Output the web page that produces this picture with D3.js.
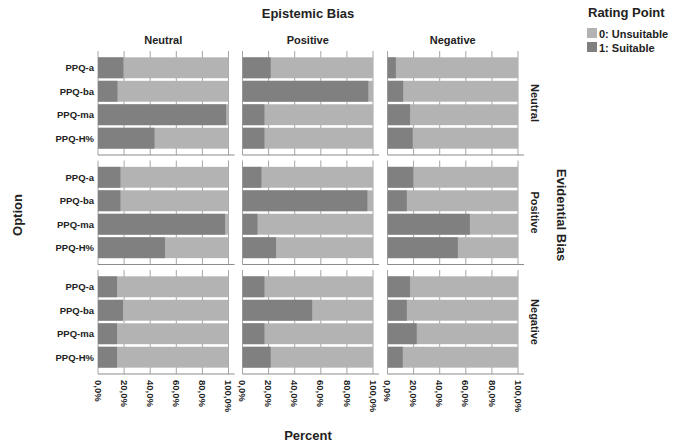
<!DOCTYPE html>
<html>
<head>
<meta charset="utf-8">
<script src="https://cdn.jsdelivr.net/npm/d3@7"></script>
<style>
  body { margin: 0; background: #fff; }
  svg text { font-family: "Liberation Sans", Arial, sans-serif; font-weight: bold; fill: #222; }
</style>
</head>
<body>
<svg width="680" height="445"></svg>
<script>
// facets
var epistemic = ["Neutral", "Positive", "Negative"];   // columns
var evidential = ["Neutral", "Positive", "Negative"];  // rows
var options = ["PPQ-a", "PPQ-ba", "PPQ-ma", "PPQ-H%"];
var ticks = [0, 20, 40, 60, 80, 100];

// percent "1: Suitable", per evidential row, per epistemic column, per option
var suitableNeutralRow = [
    [19.5, 14.9, 98.2, 43.3],
    [21.6, 96.4, 16.8, 16.8],
    [6.4, 12.0, 17.3, 19.3]
];
var suitablePositiveRow = [
    [17.2, 17.2, 97.4, 51.3],
    [14.5, 95.7, 11.5, 25.7],
    [19.8, 14.8, 63.1, 53.9]
];
var suitableNegativeRow = [
    [14.6, 19.2, 14.6, 14.6],
    [16.8, 53.4, 16.8, 21.6],
    [17.3, 14.8, 22.4, 11.7]
];
var suitable = [suitableNeutralRow, suitablePositiveRow, suitableNegativeRow];

var legendLabels = ["0: Unsuitable", "1: Suitable"];
var colors = ["#b3b3b3", "#808080"];

var svg = d3.select("svg");

var colX = [98, 242.5, 387.5];
var panelW = 130.5;
var rowY = [51, 160.5, 270];
var panelH = 104;

var fmt = function (v) { return v.toFixed(1).replace(".", ",") + "%"; };

evidential.forEach(function (rowName, r) {
    epistemic.forEach(function (colName, c) {
        var x = d3.scaleLinear().domain([0, 100]).range([colX[c], colX[c] + panelW]);
        var y = d3.scaleBand().domain(options)
            .range([rowY[r], rowY[r] + panelH])
            .paddingInner(0.11).paddingOuter(0.27);
        var g = svg.append("g");

        // vertical grid
        g.selectAll("line.grid").data(ticks).enter().append("line")
            .attr("x1", function (d) { return x(d); })
            .attr("x2", function (d) { return x(d); })
            .attr("y1", rowY[r])
            .attr("y2", rowY[r] + panelH)
            .style("stroke", "#a6a6a6")
            .style("stroke-width", 1);

        var vals = suitable[r][c];
        // unsuitable part (full bar)
        g.selectAll("rect.unsuit").data(options).enter().append("rect")
            .attr("x", x(0))
            .attr("y", function (d) { return y(d); })
            .attr("width", x(100) - x(0))
            .attr("height", y.bandwidth())
            .style("fill", colors[0]);
        g.selectAll("rect.suit").data(options).enter().append("rect")
            .attr("x", x(0))
            .attr("y", function (d) { return y(d); })
            .attr("width", function (d, i) { return x(vals[i]) - x(0); })
            .attr("height", y.bandwidth())
            .style("fill", colors[1]);

        // bottom axis line
        g.append("line")
            .attr("x1", x(0)).attr("x2", x(100) + 6)
            .attr("y1", rowY[r] + panelH).attr("y2", rowY[r] + panelH)
            .style("stroke", "#8c8c8c").style("stroke-width", 1.2);

        if (c == 0) {
            g.selectAll("text.opt").data(options).enter().append("text")
                .attr("x", x(0) - 4)
                .attr("y", function (d) { return y(d) + y.bandwidth() / 2; })
                .attr("dy", "0.35em")
                .attr("text-anchor", "end")
                .style("font-size", "9.5px")
                .text(function (d) { return d; });
        }
        if (r == 0) {
            g.append("text")
                .attr("x", (x(0) + x(100)) / 2)
                .attr("y", 44)
                .attr("text-anchor", "middle")
                .style("font-size", "11px")
                .text(colName);
        }
        if (r == evidential.length - 1) {
            g.selectAll("text.tick").data(ticks).enter().append("text")
                .attr("transform", function (d) {
                    return "translate(" + x(d) + "," + (rowY[r] + panelH + 6) + ") rotate(90)";
                })
                .attr("dy", "0.35em")
                .style("font-size", "9.5px")
                .text(function (d) { return fmt(d); });
        }
        if (c == epistemic.length - 1) {
            g.append("text")
                .attr("transform", "translate(531," + (rowY[r] + panelH / 2) + ") rotate(90)")
                .attr("text-anchor", "middle")
                .style("font-size", "11px")
                .text(rowName);
        }
    });
});

// titles
svg.append("text").attr("x", 308).attr("y", 18).attr("text-anchor", "middle")
    .style("font-size", "13px").text("Epistemic Bias");
svg.append("text").attr("x", 308).attr("y", 440).attr("text-anchor", "middle")
    .style("font-size", "13px").text("Percent");
svg.append("text").attr("transform", "translate(22,215) rotate(-90)").attr("text-anchor", "middle")
    .style("font-size", "13px").text("Option");
svg.append("text").attr("transform", "translate(557,215) rotate(90)").attr("text-anchor", "middle")
    .style("font-size", "13px").text("Evidential Bias");

// legend
svg.append("text").attr("x", 588).attr("y", 17).style("font-size", "13px").text("Rating Point");
var leg = svg.selectAll("g.leg").data(legendLabels).enter().append("g")
    .attr("transform", function (d, i) { return "translate(587," + (28 + i * 14) + ")"; });
leg.append("rect").attr("width", 10).attr("height", 10)
    .style("fill", function (d, i) { return colors[i]; });
leg.append("text").attr("x", 12).attr("y", 9.5).style("font-size", "11px")
    .text(function (d) { return d; });
</script>
</body>
</html>
